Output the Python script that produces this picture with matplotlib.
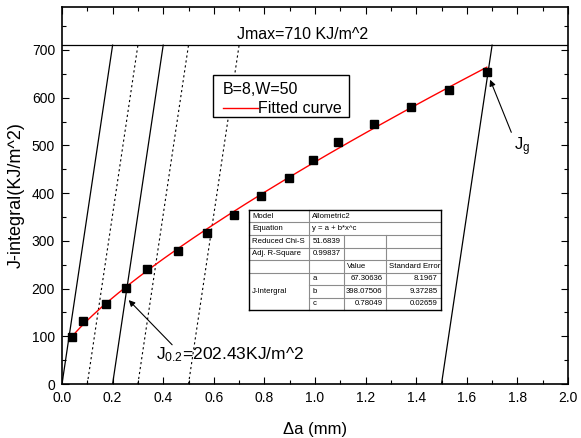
import numpy as np
import matplotlib
matplotlib.use("Agg")
import matplotlib.pyplot as plt
from matplotlib.patches import Rectangle
from matplotlib.lines import Line2D

plt.rcParams['font.family'] = ['Liberation Sans', 'DejaVu Sans']
plt.rcParams['mathtext.fontset'] = 'custom'
plt.rcParams['mathtext.rm'] = 'Liberation Sans'
plt.rcParams['mathtext.it'] = 'Liberation Sans'

# measured points
da = [0.041, 0.082, 0.174, 0.253, 0.337, 0.457, 0.573, 0.679, 0.787, 0.896,
      0.993, 1.090, 1.233, 1.379, 1.530, 1.679]
J = [99, 132, 167, 202, 240, 279, 317, 354, 394, 432, 470, 507, 545, 581, 616, 653]

# Allometric2 fit y = a + b*x^c
fit_a, fit_b, fit_c = 67.30636, 398.07506, 0.78049
fit_err = [8.1967, 9.37285, 0.02659]

# blunting / exclusion lines
blunt_slope = 3550.0
solid_offsets = [0.0, 0.2, 1.5]
dotted_offsets = [0.1, 0.3, 0.5]
J_max = 710
J_02 = 202.43

W, H = 581, 438
fig = plt.figure(figsize=(W / 100, H / 100), dpi=100)
ax = fig.add_axes([62 / W, 1 - 384 / H, (568 - 62) / W, (384 - 7) / H])


def px(x, y):
    # pixel position -> figure fraction
    return x / W, 1 - y / H


#blunting lines up to Jmax
for off in solid_offsets:
    ax.plot([off, off + J_max / blunt_slope], [0, J_max], color='k', lw=0.9, zorder=2)
for off in dotted_offsets:
    ax.plot([off, off + J_max / blunt_slope], [0, J_max], color='k', lw=0.8,
            ls=(0, (2, 2.5)), zorder=2)
ax.axhline(J_max, color='k', lw=0.9, zorder=2)

#fitted curve and points
xf = np.linspace(da[0], da[-1], 200)
ax.plot(xf, fit_a + fit_b * xf ** fit_c, color='red', lw=1.0, zorder=3)
ax.plot(da, J, 's', color='k', ms=6.2, zorder=4)

ax.set_xlim(0, 2.0)
ax.set_ylim(0, 790)
ax.set_xticks(np.arange(0, 2.01, 0.2))
ax.set_xticks(np.arange(0, 2.01, 0.1), minor=True)
ax.set_yticks(np.arange(0, 701, 100))
ax.set_yticks(np.arange(0, 790, 50), minor=True)
ax.xaxis.set_major_formatter(matplotlib.ticker.FormatStrFormatter('%.1f'))
ax.tick_params(which='both', direction='in', top=True, right=True, labelsize=10, width=0.8)
ax.tick_params(which='major', length=5, pad=5)
ax.tick_params(which='minor', length=3)
for s in ax.spines.values():
    s.set_linewidth(1.2)

ax.set_xlabel('\u0394a (mm)', fontsize=12, labelpad=12)
ax.set_ylabel('J-integral(KJ/m^2)', fontsize=13, labelpad=5)

#annotations
ax.text(0.95, 733, 'Jmax=710 KJ/m^2', fontsize=11.5, ha='center', va='center')
ax.annotate('', xy=(0.256, 180), xytext=(0.443, 78),
            arrowprops=dict(arrowstyle='-|>', color='k', lw=0.8, mutation_scale=9))
ax.text(0.372, 62, r'J$_{0.2}$=' + '%.2fKJ/m^2' % J_02, fontsize=12.5, ha='left', va='center')
ax.annotate('', xy=(1.688, 643), xytext=(1.78, 522),
            arrowprops=dict(arrowstyle='-|>', color='k', lw=0.8, mutation_scale=9))
ax.text(1.785, 497, r'J$_{\rm g}$', fontsize=12, ha='left', va='center')

#legend box
x0, y0 = px(212.7, 117.3)
x1, y1 = px(349.3, 75)
fig.patches.append(Rectangle((x0, y0), x1 - x0, y1 - y0, transform=fig.transFigure,
                             facecolor='white', edgecolor='k', lw=1.0, zorder=5))
fig.text(*px(223, 89), 'B=8,W=50', fontsize=11.5, va='center', ha='left', zorder=6)
fig.lines.append(Line2D([223 / W, 258 / W], [1 - 108.3 / H] * 2, transform=fig.transFigure,
                        color='red', lw=1.0, zorder=6))
fig.text(*px(258.5, 108.3), 'Fitted curve', fontsize=11.5, va='center', ha='left', zorder=6)

#fit result table
cols = [249.3, 309.3, 344, 385.7, 441]
row_h = 12.5
top = 210
fs = 5.6
tx0, ty0 = px(cols[0], top + 8 * row_h)
tx1, ty1 = px(cols[-1], top)
fig.patches.append(Rectangle((tx0, ty0), tx1 - tx0, ty1 - ty0, transform=fig.transFigure,
                             facecolor='white', edgecolor='none', zorder=5))


def hline(y, xa, xb, c='#8c8c8c', lw=0.8):
    fig.lines.append(Line2D([xa / W, xb / W], [1 - y / H] * 2, transform=fig.transFigure,
                            color=c, lw=lw, zorder=6))


def vline(x, ya, yb, c='#8c8c8c', lw=0.8):
    fig.lines.append(Line2D([x / W] * 2, [1 - ya / H, 1 - yb / H], transform=fig.transFigure,
                            color=c, lw=lw, zorder=6))


for i in range(1, 8):
    y = top + i * row_h
    if i >= 6:
        hline(y, cols[1], cols[-1])
    else:
        hline(y, cols[0], cols[-1])
vline(cols[1], top, top + 8 * row_h)
vline(cols[2], top + 2 * row_h, top + 8 * row_h)
vline(cols[3], top + 2 * row_h, top + 8 * row_h)
hline(top, cols[0], cols[-1], c='k', lw=1.0)
hline(top + 8 * row_h, cols[0], cols[-1], c='k', lw=1.0)
vline(cols[0], top, top + 8 * row_h, c='k', lw=1.0)
vline(cols[-1], top, top + 8 * row_h, c='k', lw=1.0)


def cell(txt, col, row, right=False):
    yc = top + (row + 0.5) * row_h
    if right:
        fig.text(*px(cols[col + 1] - 3, yc), txt, fontsize=fs, ha='right', va='center', zorder=7)
    else:
        fig.text(*px(cols[col] + 3, yc), txt, fontsize=fs, ha='left', va='center', zorder=7)


cell('Model', 0, 0)
cell('Allometric2', 1, 0)
cell('Equation', 0, 1)
cell('y = a + b*x^c', 1, 1)
cell('Reduced Chi-S', 0, 2)
cell('51.6839', 1, 2)
cell('Adj. R-Square', 0, 3)
cell('0.99837', 1, 3)
cell('Value', 2, 4)
cell('Standard Error', 3, 4)
fig.text(*px(cols[0] + 3, top + 6.5 * row_h), 'J-Intergral', fontsize=fs, ha='left',
         va='center', zorder=7)
for r, (name, val, err) in enumerate(zip(['a', 'b', 'c'], [fit_a, fit_b, fit_c], fit_err)):
    cell(name, 1, 5 + r)
    cell('%.5f' % val, 2, 5 + r, right=True)
    cell(str(err), 3, 5 + r, right=True)

fig.savefig('out.png', dpi=100)
